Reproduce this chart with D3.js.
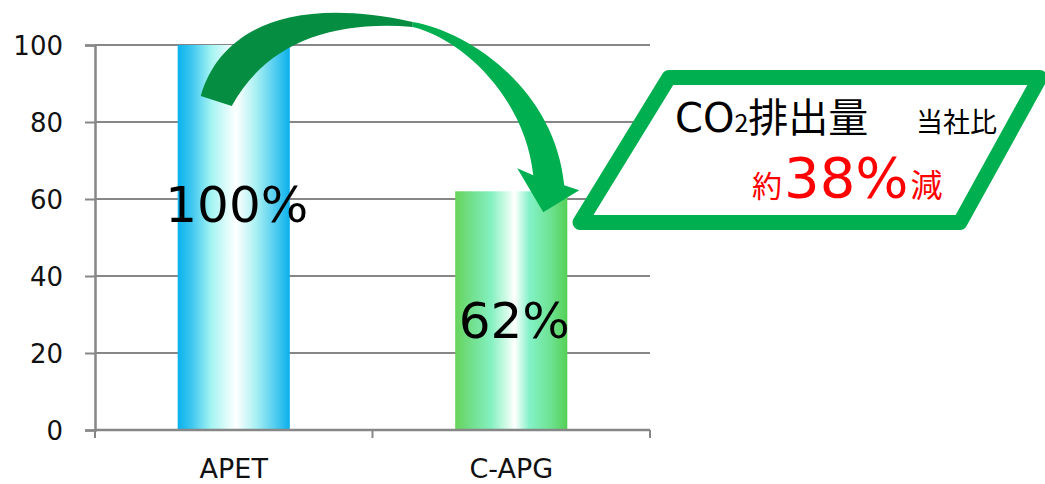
<!DOCTYPE html>
<html>
<head>
<meta charset="utf-8">
<script src="https://cdn.jsdelivr.net/npm/d3@7"></script>
<style>
  html, body { margin: 0; padding: 0; background: #fff; }
  svg { display: block; }
</style>
</head>
<body>
<svg id="chart" width="1045" height="484"></svg>
<script>
// Chart data
const categories = ["APET", "C-APG"];
const values = [100, 62];
const valueLabels = ["100%", "62%"];
const yTicks = [0, 20, 40, 60, 80, 100];

// Gradient stops per bar (offset, colour)
const barGradients = [
  [[0, "#08b2ee"], [0.12, "#3cc6f0"], [0.3, "#a4f4f2"], [0.52, "#ffffff"], [0.7, "#a8f0f2"], [0.88, "#4ccaf0"], [1, "#0ab0ec"]],
  [[0, "#66d45a"], [0.15, "#72e08e"], [0.32, "#84f0c0"], [0.46, "#d4fbe8"], [0.53, "#ffffff"], [0.66, "#84f2c8"], [0.85, "#6ee292"], [1, "#55d055"]]
];

const svg = d3.select("#chart");
const plot = { left: 95, right: 650, top: 45, bottom: 430 };
const axisGray = "#878787";
const latin = "'DejaVu Sans', Verdana, sans-serif";
const cjk = "'Noto Sans CJK JP', 'DejaVu Sans', sans-serif";

const x = d3.scaleBand().domain(categories).range([plot.left, plot.right]).padding(0);
const y = d3.scaleLinear().domain([0, 100]).range([plot.bottom, plot.top]);
const barFrac = 0.404;

// gradients
const defs = svg.append("defs");
barGradients.forEach((stops, i) => {
  const g = defs.append("linearGradient").attr("id", "barGrad" + i)
    .attr("x1", "0%").attr("x2", "100%").attr("y1", "0%").attr("y2", "0%");
  stops.forEach(([o, c]) => g.append("stop").attr("offset", o).attr("stop-color", c));
});

// gridlines
svg.append("g").selectAll("line").data(yTicks.filter(d => d > 0)).join("line")
  .attr("x1", plot.left).attr("x2", plot.right)
  .attr("y1", d => y(d)).attr("y2", d => y(d))
  .attr("stroke", axisGray).attr("stroke-width", 2);

// y axis
const yAxis = svg.append("g").attr("transform", `translate(${plot.left},0)`)
  .call(d3.axisLeft(y).tickValues(yTicks).tickSize(10).tickPadding(22).tickFormat(d3.format("d")));
yAxis.select(".domain").attr("stroke", axisGray).attr("stroke-width", 2.5);
yAxis.selectAll(".tick line").attr("stroke", axisGray).attr("stroke-width", 2);
yAxis.selectAll(".tick text").attr("font-family", latin).attr("font-size", 26)
  .attr("fill", "#111").attr("dy", "0.36em");

// bars
svg.append("g").selectAll("rect").data(values).join("rect")
  .attr("x", (d, i) => x(categories[i]) + x.bandwidth() * (1 - barFrac) / 2)
  .attr("width", x.bandwidth() * barFrac)
  .attr("y", d => y(d))
  .attr("height", d => y(0) - y(d))
  .attr("fill", (d, i) => `url(#barGrad${i})`);

// x axis (ticks on category boundaries)
const xAxisG = svg.append("g");
xAxisG.append("line").attr("x1", plot.left).attr("x2", plot.right)
  .attr("y1", y(0)).attr("y2", y(0)).attr("stroke", axisGray).attr("stroke-width", 2.5);
const bounds = categories.map(c => x(c)).concat([x(categories[categories.length - 1]) + x.bandwidth()]);
xAxisG.selectAll("line.tk").data(bounds).join("line").attr("class", "tk")
  .attr("x1", d => d).attr("x2", d => d)
  .attr("y1", y(0)).attr("y2", y(0) + 8)
  .attr("stroke", axisGray).attr("stroke-width", 2);
xAxisG.selectAll("text").data(categories).join("text")
  .attr("x", d => x(d) + x.bandwidth() / 2)
  .attr("y", 478)
  .attr("text-anchor", "middle")
  .attr("font-family", latin).attr("font-size", 27).attr("fill", "#111")
  .text(d => d);

// value labels inside bars
const labelBase = [0.54, 0.385];
svg.append("g").selectAll("text").data(values).join("text")
  .attr("x", (d, i) => x(categories[i]) + x.bandwidth() / 2 + 3)
  .attr("y", (d, i) => y(d * labelBase[i]))
  .attr("text-anchor", "middle")
  .attr("font-family", latin).attr("font-size", 50).attr("fill", "#000")
  .text((d, i) => valueLabels[i]);

// curved arrow from the first bar to the second
const cx0 = x(categories[0]) + x.bandwidth() / 2;
const cx1 = x(categories[1]) + x.bandwidth() / 2;
const arrow = svg.append("g");
// tail part (dark)
const tail = d3.path();
tail.moveTo(cx0 - 33, 96);
tail.bezierCurveTo(cx0 - 14, 30, cx0 + 56, -5, cx0 + 179, 22);
tail.lineTo(cx0 + 179, 27);
tail.bezierCurveTo(cx0 + 96, 20, cx0 + 31, 45, cx0 - 2, 106);
tail.closePath();
arrow.append("path").attr("d", tail.toString()).attr("fill", "#058d41");
// head part (light)
const head = d3.path();
head.moveTo(cx0 + 179, 22);
head.bezierCurveTo(cx1 - 41, 32, cx1 + 44, 90, cx1 + 53, y(values[1]) - 6);
head.lineTo(cx1 + 68, y(values[1]) - 1);
head.lineTo(cx1 + 32, y(values[1]) + 21);
head.lineTo(cx1 + 6, y(values[1]) - 23);
head.lineTo(cx1 + 22, y(values[1]) - 16);
head.bezierCurveTo(cx1 + 14, 100, cx1 - 46, 40, cx0 + 179, 27);
head.closePath();
arrow.append("path").attr("d", head.toString()).attr("fill", "#00b050");

// callout parallelogram
const call = svg.append("g");
call.append("path")
  .attr("d", "M669,77.5 L1040,77.5 L960,222.5 L580,222.5 Z")
  .attr("fill", "#fff").attr("stroke", "#00b050").attr("stroke-width", 15)
  .attr("stroke-linejoin", "round");

const t1 = call.append("text").attr("x", 675).attr("y", 132)
  .attr("font-family", cjk).attr("font-size", 40).attr("fill", "#000");
t1.append("tspan").attr("font-family", latin).attr("font-size", 40).text("CO");
t1.append("tspan").attr("font-size", 25).text("2");
t1.append("tspan").text("排出量");
call.append("text").attr("x", 916).attr("y", 132)
  .attr("font-family", cjk).attr("font-size", 27).attr("fill", "#000").text("当社比");

const t2 = call.append("text").attr("x", 752).attr("y", 197)
  .attr("font-family", cjk).attr("fill", "#ff0000");
t2.append("tspan").attr("font-size", 30).text("約");
t2.append("tspan").attr("font-family", latin).attr("font-size", 56).attr("dx", 2).text("38%");
t2.append("tspan").attr("font-size", 32).attr("dx", 2).text("減");
</script>
</body>
</html>
